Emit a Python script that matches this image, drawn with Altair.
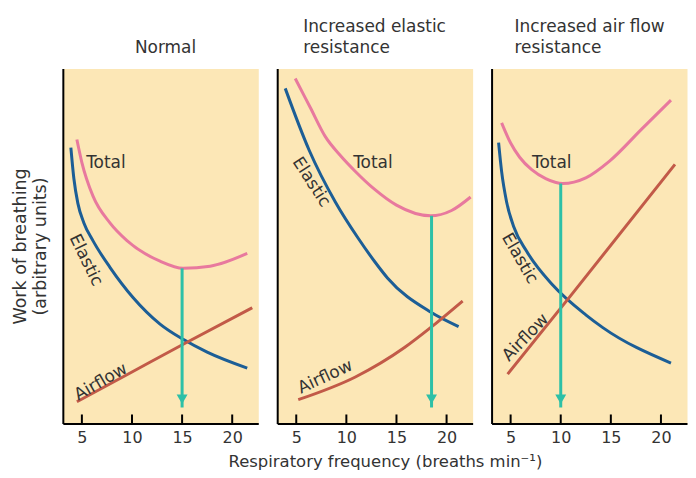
import altair as alt
import pandas as pd

# ---------------- data ----------------
x_ticks = [5, 10, 15, 20]
series_names = ["Total", "Elastic", "Airflow"]

# Panel 1: Normal
normal_total_x = [4.5, 5.0, 6.1, 7.8, 9.5, 12.8, 15.1, 17.8, 21.5]
normal_total_y = [80.0, 73.5, 64.1, 56.5, 51.5, 45.7, 43.7, 44.3, 47.9]
normal_elastic_x = [3.9, 4.2, 4.6, 5.2, 6.1, 7.8, 10.1, 12.8, 15.1, 17.5, 21.5]
normal_elastic_y = [77.7, 69.0, 62.0, 56.5, 51.5, 44.0, 35.5, 28.0, 23.7, 20.1, 15.6]
normal_airflow_x = [4.5, 10.0, 15.3, 22.0]
normal_airflow_y = [6.1, 14.5, 22.6, 32.6]
normal_optimum = [15.0, 43.7]
normal_label_x = [7.4, 5.4, 6.9]
normal_label_y = [73.5, 46.0, 11.7]
normal_label_angle = [0, 64, 330]

# Panel 2: Increased elastic resistance
elastic_total_x = [4.9, 6.4, 7.9, 9.4, 10.9, 12.8, 15.0, 18.4, 20.5, 22.4]
elastic_total_y = [97.2, 89.0, 80.8, 75.5, 71.0, 66.0, 61.5, 58.5, 60.0, 63.8]
elastic_elastic_x = [3.9, 6.3, 8.9, 11.2, 12.8, 14.1, 18.4, 21.2]
elastic_elastic_y = [94.4, 76.9, 62.4, 52.1, 45.7, 41.0, 31.4, 27.3]
elastic_airflow_x = [5.2, 10.9, 15.8, 18.4, 21.6]
elastic_airflow_y = [6.7, 13.1, 21.4, 27.0, 34.5]
elastic_optimum = [18.5, 58.5]
elastic_label_x = [12.65, 6.5, 7.9]
elastic_label_y = [73.5, 68.0, 13.1]
elastic_label_angle = [0, 57, 335]

# Panel 3: Increased air flow resistance
airres_total_x = [4.1, 5.0, 5.9, 7.1, 8.5, 10.2, 12.5, 14.9, 18.1, 21.0]
airres_total_y = [84.7, 79.0, 75.0, 71.5, 69.0, 67.6, 69.2, 74.0, 83.0, 91.1]
airres_elastic_x = [3.8, 4.1, 4.6, 5.3, 6.6, 9.2, 12.5, 14.2, 21.0]
airres_elastic_y = [79.1, 71.0, 62.4, 55.5, 48.5, 39.0, 30.6, 27.0, 17.0]
airres_airflow_x = [4.7, 11.0, 21.4]
airres_airflow_y = [13.9, 36.0, 73.0]
airres_optimum = [10.0, 67.6]
airres_label_x = [9.1, 5.9, 6.5]
airres_label_y = [73.5, 46.5, 24.2]
airres_label_angle = [0, 60, 314]

panel_titles = [["Normal"], ["Increased elastic", "resistance"], ["Increased air flow", "resistance"]]
y_title = ["Work of breathing", "(arbitrary units)"]
x_title = "Respiratory frequency (breaths min\u207b\u00b9)"

# ---------------- styling ----------------
PINK = "#E8799E"
BLUE = "#1C5E96"
RED = "#C25A48"
TEAL = "#2DC0A7"
BG = "#FCE7B6"
TXT = "#333333"
FONT = "DejaVu Sans"
W, H = 196, 356
XDOM = [3.1, 22.6]
ARROW_TIP = 4.5
HEAD_Y = 6.8


def panel(idx, total, elastic, airflow, optimum, lab_x, lab_y, lab_angle):
    rows = []
    for name, (xs, ys) in zip(series_names, [total, elastic, airflow]):
        for i, (a, b) in enumerate(zip(xs, ys)):
            rows.append({"series": name, "x": a, "y": b, "order": i})
    df = pd.DataFrame(rows)

    xaxis = alt.Axis(
        values=x_ticks, ticks=False, grid=False, domainColor="black", domainWidth=2,
        labelFont=FONT, labelFontSize=16, labelColor=TXT, labelPadding=6,
        titleFont=FONT, titleFontSize=16.5, titleFontWeight="normal", titleColor=TXT,
        titlePadding=8, titleX=108,
    )
    yaxis = alt.Axis(
        labels=False, ticks=False, grid=False, domainColor="black", domainWidth=2,
        titleFont=FONT, titleFontSize=17.5, titleFontWeight="normal", titleColor=TXT,
        titlePadding=13, titleLineHeight=20,
    )
    xscale = alt.Scale(domain=XDOM, nice=False, zero=False)
    yscale = alt.Scale(domain=[0, 100], nice=False, zero=False)
    X = alt.X("x:Q", scale=xscale, axis=xaxis, title=x_title if idx == 1 else None)
    Y = alt.Y("y:Q", scale=yscale, axis=yaxis, title=y_title if idx == 0 else None)

    base = alt.Chart(df)
    lines = base.mark_line(strokeWidth=3, interpolate="monotone").encode(
        x=X, y=Y, order="order:Q",
        color=alt.Color("series:N", scale=alt.Scale(domain=series_names, range=[PINK, BLUE, RED]), legend=None),
    )

    arrow_df = pd.DataFrame({"x": [optimum[0]], "y": [optimum[1]], "y2": [ARROW_TIP], "yh": [HEAD_Y]})
    arrow = alt.Chart(arrow_df).mark_rule(color=TEAL, strokeWidth=3).encode(
        x=alt.X("x:Q", scale=xscale), y=alt.Y("y:Q", scale=yscale), y2="y2:Q"
    )
    head = alt.Chart(arrow_df).mark_point(shape="triangle-down", filled=True, size=120, color=TEAL, opacity=1).encode(
        x=alt.X("x:Q", scale=xscale), y=alt.Y("yh:Q", scale=yscale)
    )

    tick_df = pd.DataFrame({"x": x_ticks})
    ticks = alt.Chart(tick_df).mark_rule(color="black", strokeWidth=2).encode(
        x=alt.X("x:Q", scale=xscale), y=alt.value(H), y2=alt.value(H - 9)
    )

    lab_df = pd.DataFrame({"text": series_names, "x": lab_x, "y": lab_y, "angle": lab_angle})
    labels = alt.Chart(lab_df).mark_text(font=FONT, fontSize=17, color=TXT).encode(
        x=alt.X("x:Q", scale=xscale), y=alt.Y("y:Q", scale=yscale), text="text:N",
        angle=alt.Angle("angle:Q", scale=None),
    )

    if idx == 0:
        title = alt.TitleParams(text=panel_titles[idx], anchor="middle", frame="group", dx=5, font=FONT,
                                fontSize=17, fontWeight="normal", color=TXT, offset=12, lineHeight=21)
    else:
        title = alt.TitleParams(text=panel_titles[idx], anchor="start", frame="group", dx=26 if idx == 1 else 23,
                                font=FONT, fontSize=17, fontWeight="normal", color=TXT, offset=12, lineHeight=21)

    return alt.layer(lines, arrow, head, ticks, labels).properties(width=W, height=H, title=title)


p1 = panel(0, (normal_total_x, normal_total_y), (normal_elastic_x, normal_elastic_y),
           (normal_airflow_x, normal_airflow_y), normal_optimum, normal_label_x, normal_label_y, normal_label_angle)
p2 = panel(1, (elastic_total_x, elastic_total_y), (elastic_elastic_x, elastic_elastic_y),
           (elastic_airflow_x, elastic_airflow_y), elastic_optimum, elastic_label_x, elastic_label_y, elastic_label_angle)
p3 = panel(2, (airres_total_x, airres_total_y), (airres_elastic_x, airres_elastic_y),
           (airres_airflow_x, airres_airflow_y), airres_optimum, airres_label_x, airres_label_y, airres_label_angle)

chart = alt.hconcat(p1, p2, p3, spacing=19, bounds="flush").properties(
    padding={"top": 8, "left": 3, "right": 0, "bottom": 0}, background="white"
).configure_view(fill=BG, stroke="transparent")

chart.save("out.html", embed_options={"renderer": "svg", "actions": False})
